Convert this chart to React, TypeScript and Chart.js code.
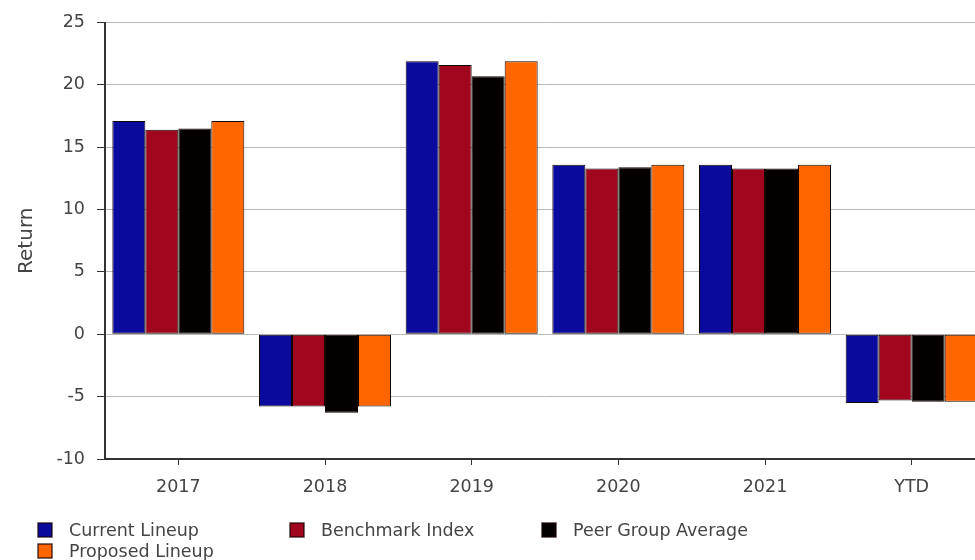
import React, { useEffect, useRef } from "react";
import { Chart, registerables } from "chart.js";

Chart.register(...registerables);

const categories = ["2017", "2018", "2019", "2020", "2021", "YTD"];
const currentLineup = [17.1, -5.8, 21.9, 13.6, 13.6, -5.5];
const benchmarkIndex = [16.4, -5.8, 21.6, 13.3, 13.3, -5.3];
const peerGroupAverage = [16.5, -6.3, 20.7, 13.4, 13.3, -5.4];
const proposedLineup = [17.1, -5.8, 21.9, 13.6, 13.6, -5.4];

const seriesNames = ["Current Lineup", "Benchmark Index", "Peer Group Average", "Proposed Lineup"];
const seriesColors = ["#0a0a9c", "#a0061e", "#050000", "#ff6600"];

const yTicks = { min: -10, max: 25, step: 5 };

const FONT = "'DejaVu Sans', Verdana, sans-serif";
const TEXT = "#444444";

// Legend laid out as a 3-column grid beneath the x axis
const gridLegend = {
  id: "gridLegend",
  afterDraw(chart: any) {
    const { ctx } = chart;
    ctx.save();
    ctx.font = `17.5px ${FONT}`;
    ctx.textBaseline = "middle";
    ctx.textAlign = "left";
    chart.data.datasets.forEach((ds: any, i: number) => {
      const col = i % 3;
      const row = Math.floor(i / 3);
      const x = 38 + col * 252;
      const y = 530 + row * 21;
      ctx.fillStyle = ds.backgroundColor;
      ctx.fillRect(x, y - 7, 14, 14);
      ctx.strokeStyle = "rgba(20,0,0,0.75)";
      ctx.lineWidth = 1.5;
      ctx.strokeRect(x, y - 7, 14, 14);
      ctx.fillStyle = TEXT;
      ctx.fillText(ds.label, x + 31, y + 1);
    });
    ctx.restore();
  },
};

export default function App() {
  const ref = useRef<HTMLCanvasElement | null>(null);

  useEffect(() => {
    if (!ref.current) return;
    const values = [currentLineup, benchmarkIndex, peerGroupAverage, proposedLineup];
    const chart = new Chart(ref.current, {
      type: "bar",
      data: {
        labels: categories,
        datasets: values.map((v, i) => ({
          label: seriesNames[i],
          data: v,
          backgroundColor: seriesColors[i],
          borderColor: "#140600",
          borderWidth: 1,
          borderSkipped: false,
          categoryPercentage: 0.9,
          barPercentage: 1.0,
        })),
      },
      options: {
        responsive: false,
        animation: false,
        layout: { padding: { top: 21, left: 0, right: 0, bottom: 0 } },
        plugins: {
          legend: { display: false },
          tooltip: { enabled: false },
        },
        scales: {
          x: {
            grid: {
              offset: false,
              drawOnChartArea: false,
              tickLength: 6,
              tickColor: "#333",
            },
            border: { color: "#333", width: 2 },
            ticks: {
              color: TEXT,
              font: { family: FONT, size: 17.5 },
              padding: 12,
              maxRotation: 0,
            },
            afterFit: (s: any) => {
              s.height = 101;
            },
          },
          y: {
            min: yTicks.min,
            max: yTicks.max,
            grid: {
              color: "#b9b9b9",
              lineWidth: 1,
              tickLength: 8,
              tickColor: "#333",
            },
            border: { color: "#333", width: 2 },
            ticks: {
              stepSize: yTicks.step,
              color: TEXT,
              font: { family: FONT, size: 17.5 },
              padding: 12,
            },
            title: {
              display: true,
              text: "Return",
              color: TEXT,
              font: { family: FONT, size: 20 },
              padding: { top: 15, bottom: 0 },
            },
            afterFit: (s: any) => {
              s.width = 105;
            },
          },
        },
      },
      plugins: [gridLegend],
    });
    return () => chart.destroy();
  }, []);

  return (
    <div
      style={{
        position: "absolute",
        left: 0,
        top: 0,
        width: 975,
        height: 560,
        overflow: "hidden",
        background: "#fff",
      }}
    >
      <canvas ref={ref} width={985} height={560} style={{ display: "block" }} />
    </div>
  );
}
